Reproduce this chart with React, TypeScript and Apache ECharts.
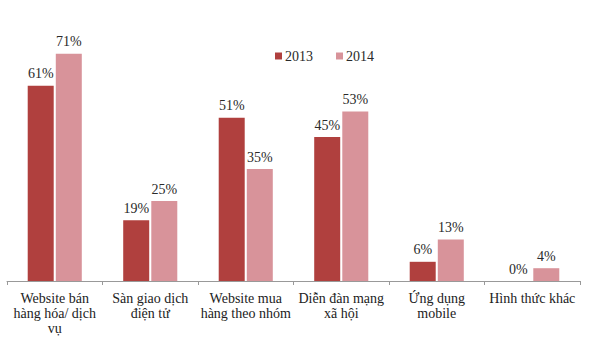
import React, { useEffect, useRef } from "react";
import * as echarts from "echarts";

const categories = [
  "Website bán\nhàng hóa/ dịch\nvụ",
  "Sàn giao dịch\nđiện tử",
  "Website mua\nhàng theo nhóm",
  "Diễn đàn mạng\nxã hội",
  "Ứng dụng\nmobile",
  "Hình thức khác",
];
const values2013 = [61, 19, 51, 45, 6, 0];
const values2014 = [71, 25, 35, 53, 13, 4];
const seriesNames = ["2013", "2014"];

const FONT = "Times New Roman, serif";

export default function App() {
  const ref = useRef<HTMLDivElement>(null);
  useEffect(() => {
    if (!ref.current) return;
    const chart = echarts.init(ref.current, undefined, { renderer: "svg" });
    const label = {
      show: true,
      position: "top",
      distance: 5,
      formatter: "{c}%",
      fontFamily: FONT,
      fontSize: 14,
      color: "#2a2a2a",
    };
    chart.setOption({
      animation: false,
      backgroundColor: "#ffffff",
      legend: {
        top: 44,
        left: 270,
        itemWidth: 7,
        itemHeight: 7,
        itemGap: 23,
        icon: "rect",
        textStyle: { fontFamily: FONT, fontSize: 14, color: "#2a2a2a", padding: [0, 0, 0, -2] },
        data: seriesNames,
      },
      grid: { left: 7, right: 20, top: 25, bottom: 77, containLabel: false },
      xAxis: {
        type: "category",
        data: categories,
        axisLine: { lineStyle: { color: "#999", width: 1 } },
        axisTick: { show: true, length: 4, lineStyle: { color: "#999" } },
        axisLabel: {
          interval: 0,
          margin: 10,
          fontFamily: FONT,
          fontSize: 14,
          lineHeight: 15,
          color: "#222",
        },
      },
      yAxis: {
        type: "value",
        min: 0,
        max: 80,
        show: false,
        splitLine: { show: false },
      },
      series: [
        {
          name: seriesNames[0],
          type: "bar",
          data: values2013,
          barWidth: 26,
          barGap: "8%",
          itemStyle: { color: "#B0403E" },
          label,
        },
        {
          name: seriesNames[1],
          type: "bar",
          data: values2014,
          barWidth: 26,
          itemStyle: { color: "#D8939A" },
          label,
        },
      ],
    });
    return () => chart.dispose();
  }, []);
  return (
    <div
      ref={ref}
      style={{ position: "absolute", left: 0, top: 0, width: 600, height: 358 }}
    />
  );
}
